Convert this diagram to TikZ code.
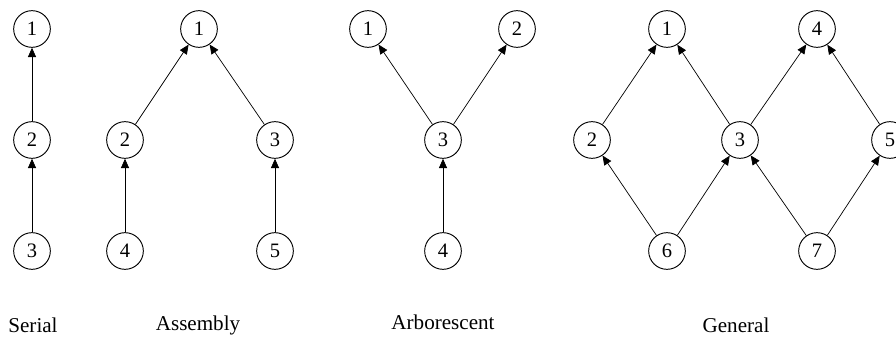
\documentclass[tikz,border=0pt]{standalone}
\usepackage{fontspec}
\setmainfont{Liberation Serif}
\usetikzlibrary{arrows.meta}
\tikzset{
  job/.style={draw,circle,thick,minimum size=1.1cm,inner sep=0pt,font=\fontsize{17.5}{17.5}\selectfont},
  prec/.style={-{Triangle[length=8pt,width=7pt]},semithick},
  kind/.style={font=\fontsize{18}{18}\selectfont}
}
\begin{document}
\begin{tikzpicture}[x=0.03cm,y=-0.03cm]
\useasboundingbox (0,0) rectangle (896,340);
% serial
\node[job] (s1) at (32,29) {1};
\node[job] (s2) at (32,140) {2};
\node[job] (s3) at (32,251) {3};
\draw[prec] (s2) -- (s1);
\draw[prec] (s3) -- (s2);
\node[kind] (sl) at (33,325) {Serial};

% assembly
\node[job] (a1) at (199,29) {1};
\node[job] (a2) at (125,140) {2};
\node[job] (a3) at (275,140) {3};
\node[job] (a4) at (125,251) {4};
\node[job] (a5) at (275,251) {5};
\draw[prec] (a2) -- (a1);
\draw[prec] (a3) -- (a1);
\draw[prec] (a4) -- (a2);
\draw[prec] (a5) -- (a3);
\node[kind] (al) at (198,325) {Assembly};

% arborescent
\node[job] (b1) at (368,29) {1};
\node[job] (b2) at (517,29) {2};
\node[job] (b3) at (443,140) {3};
\node[job] (b4) at (443,251) {4};
\draw[prec] (b3) -- (b1);
\draw[prec] (b3) -- (b2);
\draw[prec] (b4) -- (b3);
\node[kind] (bl) at (443,322) {Arborescent};

% general
\node[job] (g1) at (667,29) {1};
\node[job] (g4) at (817,29) {4};
\node[job] (g2) at (592,140) {2};
\node[job] (g3) at (740,140) {3};
\node[job] (g5) at (890,140) {5};
\node[job] (g6) at (667,251) {6};
\node[job] (g7) at (817,251) {7};
\draw[prec] (g2) -- (g1);
\draw[prec] (g3) -- (g1);
\draw[prec] (g3) -- (g4);
\draw[prec] (g5) -- (g4);
\draw[prec] (g6) -- (g2);
\draw[prec] (g6) -- (g3);
\draw[prec] (g7) -- (g3);
\draw[prec] (g7) -- (g5);
\node[kind] (gl) at (736,325) {General};
\end{tikzpicture}
\end{document}
